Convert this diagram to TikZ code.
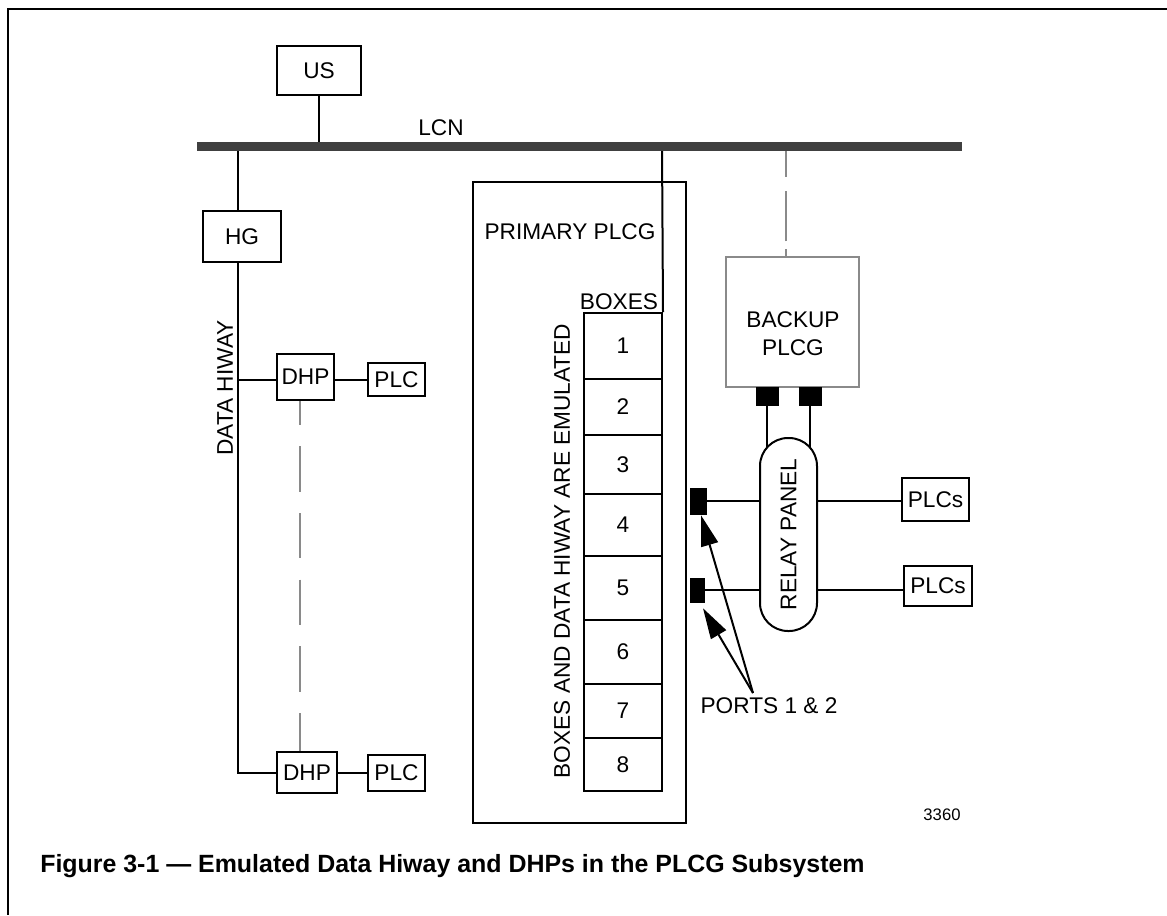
\documentclass[tikz,border=0pt]{standalone}
\usepackage{fontspec}
\setmainfont{Liberation Sans}
\usetikzlibrary{calc,arrows.meta}
\definecolor{bardark}{HTML}{404040}
\definecolor{lgray}{HTML}{8A8A8A}
\begin{document}
\begin{tikzpicture}[x=0.75pt,y=-0.75pt,
  mainfont/.style={font=\fontsize{17}{21}\selectfont},
  bx/.style={draw, line width=1.5pt, fill=white, inner sep=0pt, mainfont},
  sz/.style 2 args={minimum width={#1*0.75pt}, minimum height={#2*0.75pt}},
  ln/.style={line width=1.5pt},
  gdash/.style={line width=1.5pt, lgray, dash pattern=on 34pt off 16pt, dash phase=16pt},
  gdashdot/.style={line width=1.5pt, lgray, dash pattern=on 5pt off 6pt on 37.5pt off 11pt on 30pt off 1pt},
  port/.style={fill=black, draw=black, inner sep=0pt},
  arr/.style={line width=1.5pt, -{Triangle[length=23pt,width=13pt]}},
  lbl/.style={inner sep=0pt, mainfont}
]
\useasboundingbox (0,0) rectangle (1167,915);
% frame
\coordinate (fTL) at (8,9);
\coordinate (fTR) at (1167,9);
\coordinate (fBL) at (8,915);
\draw[line width=2.2pt] (fTR) -- (fTL) -- (fBL);

% LCN coordinates
\coordinate (lcnL) at (197,146.5);
\coordinate (lcnR) at (962,146.5);
\coordinate (hwTop) at (238,146.5);
\coordinate (lcnDrop) at (662,146.5);

% left side nodes
\node[bx, sz={84}{49}] (us) at (319,70.5) {US};
\node[bx, sz={78}{51}] (hg) at (242,236.5) {HG};
\node[bx, sz={57}{46}] (dhp1) at (305.5,377) {DHP};
\node[bx, sz={57}{33}] (plc1) at (396.5,379.5) {PLC};
\node[bx, sz={60}{41}] (dhp2) at (307,772.5) {DHP};
\node[bx, sz={57}{36}] (plc2) at (396.5,773) {PLC};
\node[lbl, rotate=90] (dhw) at (225,388) {DATA HIWAY};
\node[lbl] (lcn) at (441,128) {LCN};

% left side connectors
\draw[ln] (us.south) -- (us.south |- lcnL);
\draw[ln] (hwTop) -- (hwTop |- hg.north);
\draw[ln] (hwTop |- hg.south) -- (hwTop |- dhp2.west) -- (dhp2.west);
\draw[ln] (hwTop |- plc1.west) -- (dhp1.west |- plc1.west);
\draw[ln] (dhp1.east |- plc1.west) -- (plc1.west);
\draw[ln] (dhp2.east |- plc2.west) -- (plc2.west);
\draw[gdash] ([xshift=-4pt]dhp1.south) -- ([xshift=-4pt]dhp1.south |- dhp2.north);

% primary PLCG
\node[bx, sz={213}{641}] (prim) at (579.5,502.5) {};
\node[lbl] (primlbl) at (570,232) {PRIMARY PLCG};
\node[lbl] (boxeslbl) at (619,302) {BOXES};
\node[lbl, rotate=90] (emul) at (562,551) {BOXES AND DATA HIWAY ARE EMULATED};
\node[bx, sz={78}{66}] (b1) at (623,346) {1};
\node[bx, sz={78}{56}] (b2) at (623,407) {2};
\node[bx, sz={78}{59}] (b3) at (623,464.5) {3};
\node[bx, sz={78}{62}] (b4) at (623,525) {4};
\node[bx, sz={78}{64}] (b5) at (623,588) {5};
\node[bx, sz={78}{64}] (b6) at (623,652) {6};
\node[bx, sz={78}{54}] (b7) at (623,711) {7};
\node[bx, sz={78}{53}] (b8) at (623,764.5) {8};
\draw[ln] (lcnDrop) -- (b1.north east);

% backup PLCG
\node[bx, draw=lgray, sz={133}{130}] (backup) at (792.5,322) {};
\node[lbl, align=center] (backuplbl) at (793,334) {BACKUP\\PLCG};
\draw[gdashdot] ([xshift=-5pt]backup.north) -- ([xshift=-5pt]backup.north |- lcnL);
\node[port, sz={22}{18}] (bp1) at (767,396) {};
\node[port, sz={22}{18}] (bp2) at (810,396) {};

% relay panel
\coordinate (rpc) at (788.5,534.5);
\draw[ln] (bp1.south) -- (bp1.south |- rpc);
\draw[ln] (bp2.south) -- (bp2.south |- rpc);
\node[bx, rotate=90, sz={193}{57}, rounded corners=21pt] (rp) at (rpc) {RELAY PANEL};

% ports
\node[port, sz={16}{26}] (p1) at (698,501) {};
\node[port, sz={14}{24}] (p2) at (697,590) {};
\draw[ln] (p1.east) -- (p1.east -| rp.north);
\draw[ln] (p2.east) -- (p2.east -| rp.north);

% PLCs
\node[bx, sz={67}{43}] (plcs1) at (935.5,499.5) {PLCs};
\node[bx, sz={68}{40}] (plcs2) at (938,586) {PLCs};
\draw[ln] (rp.south |- p1.east) -- (plcs1.west |- p1.east);
\draw[ln] (rp.south |- p2.east) -- (plcs2.west |- p2.east);

% ports label and arrows
\node[lbl] (ports) at (769,706) {PORTS 1 \& 2};
\coordinate (apex) at (753,693);
\draw[arr] (apex) -- ($(p1.south)+(3,1)$);
\draw[arr] (apex) -- ($(p2.south)+(6,6)$);

% LCN bar on top
\draw[line width=6.75pt, bardark] (lcnL) -- (lcnR);

% figure number and caption
\node[inner sep=0pt, font=\fontsize{12.5}{14}\selectfont] (num) at (942,815) {3360};
\node[inner sep=0pt, anchor=west, font=\fontsize{18.7}{22}\selectfont\bfseries] (cap) at (40,866) {Figure 3-1 — Emulated Data Hiway and DHPs in the PLCG Subsystem};
\end{tikzpicture}
\end{document}
